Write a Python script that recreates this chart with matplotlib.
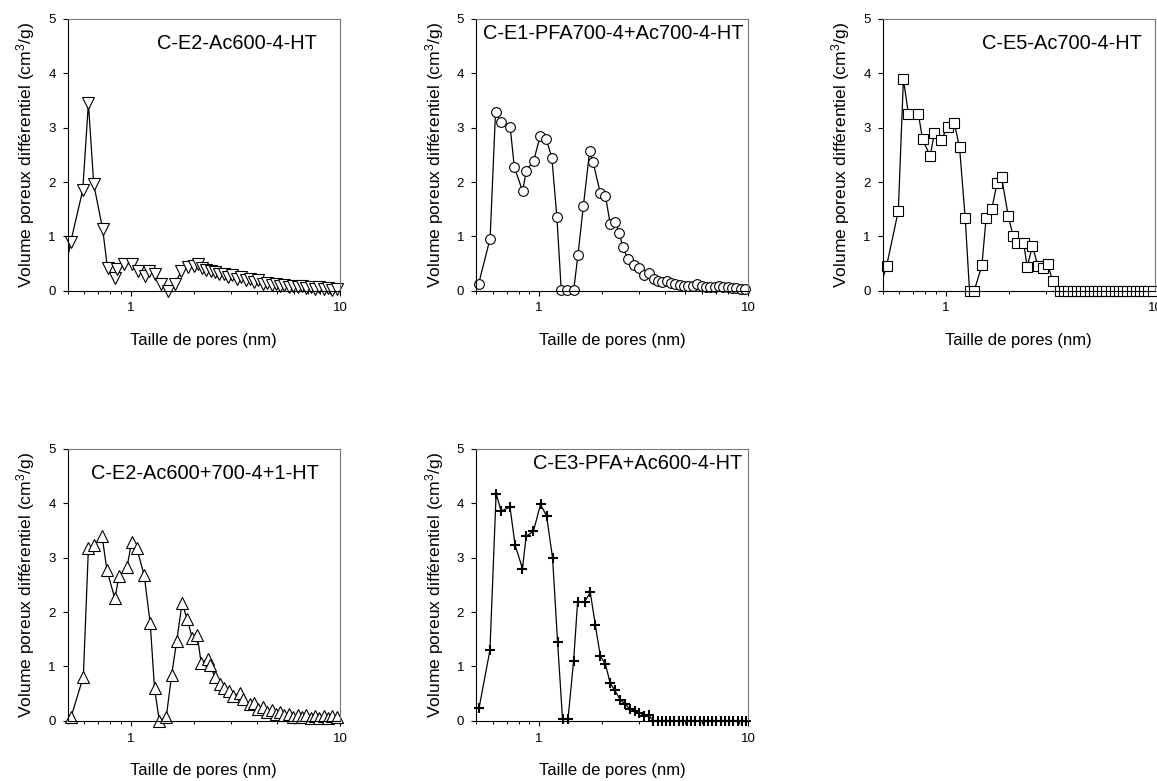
import matplotlib
matplotlib.use("Agg")
import matplotlib.pyplot as plt
import numpy as np
from matplotlib.ticker import LogLocator, NullFormatter, FixedLocator, FixedFormatter

plt.rcParams["font.family"] = ["Liberation Sans", "DejaVu Sans"]
plt.rcParams["mathtext.default"] = "regular"

# shared pore-size grid for the flat zero tail (nm)
zero_tail_x = [3.52, 3.69, 3.86, 4.04, 4.24, 4.44, 4.65, 4.87, 5.10, 5.34, 5.59, 5.86,
               6.14, 6.43, 6.73, 7.05, 7.39, 7.74, 8.10, 8.49, 8.89, 9.31, 9.75]
zero_tail_y = [0.0] * len(zero_tail_x)

# C-E2-Ac600-4-HT
x1 = [0.468, 0.517, 0.59, 0.628, 0.666, 0.735, 0.775, 0.837, 0.862, 0.934, 1.017, 1.083,
      1.165, 1.23, 1.31, 1.40, 1.507, 1.622, 1.746, 1.88, 2.01, 2.10, 2.19, 2.30, 2.41,
      2.53, 2.65, 2.78, 2.92, 3.06, 3.21, 3.37, 3.54, 3.71, 3.89, 4.08, 4.28, 4.49, 4.71,
      4.94, 5.18, 5.43, 5.70, 5.98, 6.27, 6.58, 6.90, 7.24, 7.60, 7.97, 8.36, 8.77, 9.20, 9.65]
y1 = [0.0, 0.90, 1.85, 3.45, 1.96, 1.13, 0.41, 0.23, 0.40, 0.49, 0.50, 0.36, 0.27, 0.36,
      0.30, 0.12, 0.0, 0.12, 0.36, 0.44, 0.46, 0.50, 0.42, 0.38, 0.36, 0.35, 0.31, 0.30,
      0.26, 0.28, 0.22, 0.25, 0.19, 0.22, 0.16, 0.19, 0.13, 0.15, 0.11, 0.13, 0.09, 0.11,
      0.07, 0.09, 0.06, 0.08, 0.05, 0.07, 0.04, 0.06, 0.03, 0.05, 0.02, 0.04]

# C-E1-PFA700-4+Ac700-4-HT
x2 = [0.515, 0.584, 0.62, 0.657, 0.728, 0.762, 0.835, 0.870, 0.943, 1.014, 1.083, 1.152,
      1.218, 1.277, 1.36, 1.466, 1.535, 1.63, 1.746, 1.812, 1.964, 2.077, 2.19, 2.31,
      2.42, 2.51, 2.66, 2.85, 2.99, 3.17, 3.34, 3.54, 3.71, 3.89, 4.08, 4.28, 4.49, 4.71,
      4.94, 5.18, 5.43, 5.70, 5.98, 6.27, 6.58, 6.90, 7.24, 7.60, 7.97, 8.36, 8.77, 9.20, 9.65]
y2 = [0.13, 0.96, 3.29, 3.10, 3.02, 2.28, 1.83, 2.21, 2.39, 2.85, 2.79, 2.45, 1.35, 0.02,
      0.02, 0.02, 0.65, 1.56, 2.57, 2.37, 1.80, 1.75, 1.23, 1.27, 1.07, 0.81, 0.58, 0.47,
      0.41, 0.29, 0.33, 0.21, 0.18, 0.16, 0.17, 0.15, 0.13, 0.10, 0.08, 0.08, 0.09, 0.12,
      0.09, 0.07, 0.06, 0.06, 0.09, 0.07, 0.06, 0.05, 0.05, 0.04, 0.03]

# C-E5-Ac700-4-HT
x3 = [0.48, 0.522, 0.594, 0.628, 0.664, 0.741, 0.775, 0.843, 0.884, 0.95, 1.03, 1.10,
      1.165, 1.24, 1.30, 1.37, 1.49, 1.56, 1.66, 1.76, 1.85, 1.99, 2.10, 2.19, 2.36,
      2.45, 2.60, 2.76, 2.92, 3.07, 3.25] + zero_tail_x
y3 = [0.0, 0.455, 1.47, 3.89, 3.25, 3.25, 2.79, 2.48, 2.90, 2.78, 3.02, 3.08, 2.64, 1.33,
      0.0, 0.0, 0.47, 1.33, 1.50, 1.98, 2.09, 1.38, 1.01, 0.88, 0.88, 0.44, 0.82, 0.45,
      0.42, 0.50, 0.17] + zero_tail_y

# C-E2-Ac600+700-4+1-HT
x4 = [0.519, 0.594, 0.628, 0.670, 0.73, 0.77, 0.84, 0.88, 0.96, 1.01, 1.07, 1.16, 1.24,
      1.30, 1.37, 1.48, 1.57, 1.66, 1.76, 1.86, 1.97, 2.08, 2.17, 2.34, 2.40, 2.52, 2.67,
      2.78, 2.94, 3.10, 3.33, 3.45, 3.72, 3.89, 4.08, 4.28, 4.49, 4.71, 4.94, 5.18, 5.43,
      5.70, 5.98, 6.27, 6.58, 6.90, 7.24, 7.60, 7.97, 8.36, 8.77, 9.20, 9.65]
y4 = [0.07, 0.81, 3.17, 3.23, 3.40, 2.77, 2.25, 2.66, 2.82, 3.29, 3.17, 2.68, 1.79, 0.60,
      0.0, 0.07, 0.85, 1.47, 2.16, 1.88, 1.52, 1.58, 1.07, 1.13, 1.02, 0.81, 0.68, 0.60,
      0.54, 0.46, 0.51, 0.40, 0.30, 0.32, 0.22, 0.26, 0.16, 0.20, 0.12, 0.16, 0.10, 0.13,
      0.07, 0.11, 0.06, 0.10, 0.05, 0.09, 0.05, 0.08, 0.05, 0.08, 0.06]

# C-E3-PFA+Ac600-4-HT
x5 = [0.517, 0.583, 0.624, 0.659, 0.727, 0.769, 0.834, 0.868, 0.941, 1.017, 1.087, 1.161,
      1.227, 1.296, 1.376, 1.464, 1.530, 1.652, 1.759, 1.859, 1.964, 2.077, 2.19, 2.30,
      2.45, 2.58, 2.72, 2.87, 3.02, 3.18, 3.34] + zero_tail_x
y5 = [0.23, 1.30, 4.18, 3.86, 3.93, 3.23, 2.80, 3.39, 3.49, 3.98, 3.77, 3.00, 1.45, 0.03,
      0.03, 1.10, 2.19, 2.19, 2.36, 1.76, 1.19, 1.04, 0.69, 0.56, 0.38, 0.31, 0.21, 0.17,
      0.15, 0.09, 0.10] + zero_tail_y

panels = [
    ("C-E2-Ac600-4-HT", x1, y1, "v", 8, [0.0585, 0.6278], (0.62, 0.91)),
    ("C-E1-PFA700-4+Ac700-4-HT", x2, y2, "o", 7, [0.4114, 0.6278], (0.506, 0.947)),
    ("C-E5-Ac700-4-HT", x3, y3, "s", 6.5, [0.7629, 0.6278], (0.657, 0.91)),
    ("C-E2-Ac600+700-4+1-HT", x4, y4, "^", 8, [0.0585, 0.0772], (0.505, 0.91)),
    ("C-E3-PFA+Ac600-4-HT", x5, y5, "+", 6.5, [0.4114, 0.0772], (0.594, 0.947)),
]

fig = plt.figure(figsize=(11.57, 7.81), dpi=100)

for name, xs, ys, mk, ms, (left, bottom), (tx, ty) in panels:
    ax = fig.add_axes([left, bottom, 0.2353, 0.3479])
    xs = np.array(xs)
    ys = np.array(ys)
    ax.plot(xs, ys, color="black", lw=0.9)
    inside = xs >= 0.5
    if mk == "+":
        ax.plot(xs[inside], ys[inside], ls="none", marker=mk, ms=ms, mew=1.5,
                color="black", clip_on=False)
    else:
        ax.plot(xs[inside], ys[inside], ls="none", marker=mk, ms=ms, mew=0.8,
                mfc="white", mec="black", clip_on=False)

    ax.set_xscale("log")
    ax.set_xlim(0.5, 10)
    ax.set_ylim(0, 5)
    ax.xaxis.set_major_locator(FixedLocator([1, 10]))
    ax.xaxis.set_major_formatter(FixedFormatter(["1", "10"]))
    ax.xaxis.set_minor_locator(LogLocator(base=10, subs=np.arange(2, 10) * 0.1 * 10,
                                          numticks=10))
    ax.xaxis.set_minor_formatter(NullFormatter())
    ax.set_yticks([0, 1, 2, 3, 4, 5])

    ax.tick_params(axis="both", which="major", direction="out", length=3.5, width=0.8,
                   labelsize=9.5, pad=5)
    ax.tick_params(axis="x", which="minor", direction="out", length=2.5, width=0.7)
    ax.tick_params(top=False, right=False, which="both")
    for side in ["left", "bottom"]:
        ax.spines[side].set_linewidth(0.8)
    for side in ["top", "right"]:
        ax.spines[side].set_linewidth(0.8)
        ax.spines[side].set_color("#777777")

    ax.set_xlabel("Taille de pores (nm)", fontsize=12, labelpad=13)
    ax.set_ylabel("Volume poreux différentiel (cm$^3$/g)", fontsize=12.6, labelpad=8)
    ax.text(tx, ty, name, transform=ax.transAxes, ha="center", va="center", fontsize=14.4)

fig.savefig("out.png", dpi=100)
plt.close(fig)
